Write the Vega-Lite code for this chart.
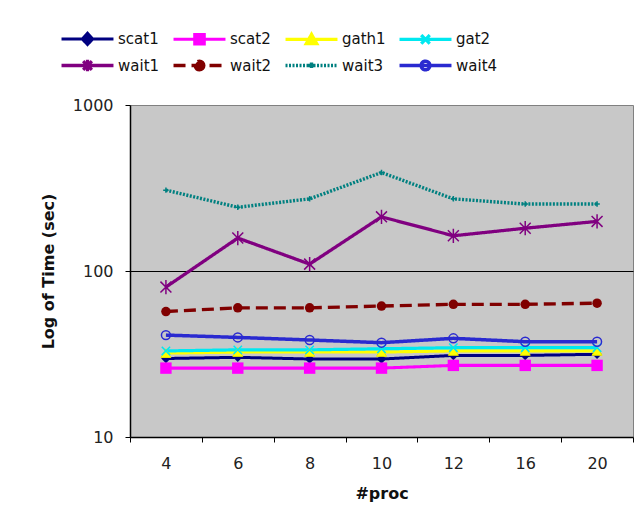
{
  "$schema": "https://vega.github.io/schema/vega-lite/v6.json",
  "autosize": "none",
  "width": 503,
  "height": 332,
  "padding": {"left": 130, "top": 105, "right": 10, "bottom": 85},
  "background": "white",
  "config": {
    "font": "DejaVu Sans",
    "view": {"fill": "#c8c8c8", "stroke": "#808080", "strokeWidth": 1},
    "axis": {"labelFont": "DejaVu Sans", "titleFont": "DejaVu Sans", "labelColor": "#222", "titleColor": "#111", "domainColor": "black", "tickColor": "black", "labelFontSize": 16, "titleFontSize": 16, "titleFontWeight": "bold"}
  },
  "data": {"values": [
    {"proc": "4", "series": "scat1", "time": 29.7},
    {"proc": "6", "series": "scat1", "time": 30.2},
    {"proc": "8", "series": "scat1", "time": 29.5},
    {"proc": "10", "series": "scat1", "time": 29.5},
    {"proc": "12", "series": "scat1", "time": 31},
    {"proc": "16", "series": "scat1", "time": 31},
    {"proc": "20", "series": "scat1", "time": 31.5},
    {"proc": "4", "series": "scat2", "time": 26},
    {"proc": "6", "series": "scat2", "time": 26},
    {"proc": "8", "series": "scat2", "time": 26},
    {"proc": "10", "series": "scat2", "time": 26},
    {"proc": "12", "series": "scat2", "time": 27},
    {"proc": "16", "series": "scat2", "time": 27},
    {"proc": "20", "series": "scat2", "time": 27},
    {"proc": "4", "series": "gath1", "time": 32},
    {"proc": "6", "series": "gath1", "time": 32.5},
    {"proc": "8", "series": "gath1", "time": 32.5},
    {"proc": "10", "series": "gath1", "time": 32.5},
    {"proc": "12", "series": "gath1", "time": 33},
    {"proc": "16", "series": "gath1", "time": 33},
    {"proc": "20", "series": "gath1", "time": 33},
    {"proc": "4", "series": "gat2", "time": 33},
    {"proc": "6", "series": "gat2", "time": 33.5},
    {"proc": "8", "series": "gat2", "time": 33.5},
    {"proc": "10", "series": "gat2", "time": 34},
    {"proc": "12", "series": "gat2", "time": 34.5},
    {"proc": "16", "series": "gat2", "time": 34.5},
    {"proc": "20", "series": "gat2", "time": 34.5},
    {"proc": "4", "series": "wait1", "time": 80},
    {"proc": "6", "series": "wait1", "time": 158},
    {"proc": "8", "series": "wait1", "time": 110},
    {"proc": "10", "series": "wait1", "time": 212},
    {"proc": "12", "series": "wait1", "time": 163},
    {"proc": "16", "series": "wait1", "time": 181},
    {"proc": "20", "series": "wait1", "time": 199},
    {"proc": "4", "series": "wait2", "time": 57},
    {"proc": "6", "series": "wait2", "time": 60},
    {"proc": "8", "series": "wait2", "time": 60},
    {"proc": "10", "series": "wait2", "time": 61.5},
    {"proc": "12", "series": "wait2", "time": 63},
    {"proc": "16", "series": "wait2", "time": 63},
    {"proc": "20", "series": "wait2", "time": 64},
    {"proc": "4", "series": "wait3", "time": 307},
    {"proc": "6", "series": "wait3", "time": 242},
    {"proc": "8", "series": "wait3", "time": 272},
    {"proc": "10", "series": "wait3", "time": 392},
    {"proc": "12", "series": "wait3", "time": 272},
    {"proc": "16", "series": "wait3", "time": 253},
    {"proc": "20", "series": "wait3", "time": 253},
    {"proc": "4", "series": "wait4", "time": 41.1},
    {"proc": "6", "series": "wait4", "time": 39.8},
    {"proc": "8", "series": "wait4", "time": 38.4},
    {"proc": "10", "series": "wait4", "time": 37},
    {"proc": "12", "series": "wait4", "time": 39.3},
    {"proc": "16", "series": "wait4", "time": 37.5},
    {"proc": "20", "series": "wait4", "time": 37.5}
  ]},
  "encoding": {
    "x": {
      "field": "proc", "type": "ordinal",
      "sort": ["4", "6", "8", "10", "12", "16", "20"],
      "scale": {"type": "band", "paddingInner": 0, "paddingOuter": 0},
      "bandPosition": 0.5,
      "axis": {"title": "#proc", "labelAngle": 0, "tickBand": "extent", "tickSize": 5, "labelPadding": 13, "titlePadding": 14, "domainWidth": 1.5}
    },
    "y": {
      "field": "time", "type": "quantitative",
      "scale": {"type": "log", "domain": [10, 1000], "nice": false},
      "axis": {"title": "Log of Time (sec)", "values": [10, 100, 1000], "format": "d", "tickSize": 5, "labelPadding": 12, "titlePadding": 16, "domainWidth": 1.5, "grid": true,
        "gridColor": {"condition": {"test": "datum.value == 100", "value": "black"}, "value": "transparent"}, "gridWidth": 1.2}
    }
  },
  "layer": [
    {
      "mark": {"type": "line"},
      "encoding": {
        "color": {
          "field": "series", "type": "nominal",
          "scale": {"domain": ["scat1", "scat2", "gath1", "gat2", "wait1", "wait2", "wait3", "wait4"],
                    "range": ["#000080", "#ff00ff", "#ffff00", "#00e8f0", "#800080", "#800000", "#008080", "#2a2ad0"]},
          "legend": {
            "title": null, "orient": "none", "legendX": -53, "legendY": -77,
            "columns": 4, "direction": "horizontal",
            "symbolSize": 300, "labelOffset": 20, "columnPadding": 6, "rowPadding": 2,
            "labelFont": "DejaVu Sans", "labelFontSize": 15, "labelColor": "#111",
            "symbolStrokeWidth": 2,
            "encode": {
              "symbols": {"update": {
                "shape": {"signal": "{'scat1':'M-3,0L3,0M0,-0.65L0.6,0L0,0.65L-0.6,0Z','scat2':'M-3,0L3,0M-0.55,-0.55L0.55,-0.55L0.55,0.55L-0.55,0.55Z','gath1':'M-3,0L3,0M0,-0.6L0.62,0.5L-0.62,0.5Z','gat2':'M-3,0L3,0M-0.5,-0.5L0.5,0.5M-0.5,0.5L0.5,-0.5','wait1':'M-3,0L3,0M-0.5,-0.5L0.5,0.5M-0.5,0.5L0.5,-0.5M0,-0.65L0,0.65','wait2':'M-3,0L3,0M0.5,0C0.5,0.276 0.276,0.5 0,0.5C-0.276,0.5 -0.5,0.276 -0.5,0C-0.5,-0.276 -0.276,-0.5 0,-0.5C0.276,-0.5 0.5,-0.276 0.5,0Z','wait3':'M-3,0L3,0M0,-0.35L0,0.35M-0.35,0L0.35,0','wait4':'M-3,0L3,0M0.5,0C0.5,0.276 0.276,0.5 0,0.5C-0.276,0.5 -0.5,0.276 -0.5,0C-0.5,-0.276 -0.276,-0.5 0,-0.5C0.276,-0.5 0.5,-0.276 0.5,0Z'}[datum.value]"},
                "fill": {"signal": "indexof(['scat1','scat2','gath1','wait2'], datum.value) >= 0 ? scale('color', datum.value) : 'transparent'"},
                "strokeDash": {"signal": "datum.value == 'wait2' ? [6,4] : datum.value == 'wait3' ? [1.5,1.5] : [1,0]"},
                "strokeWidth": {"signal": "datum.value == 'wait3' || datum.value == 'wait4' ? 1.5 : 2.5"},
                "opacity": {"value": 1}
              }}
            }
          }
        },
        "strokeDash": {
          "field": "series", "type": "nominal",
          "scale": {"domain": ["scat1", "scat2", "gath1", "gat2", "wait1", "wait2", "wait3", "wait4"],
                    "range": [[1, 0], [1, 0], [1, 0], [1, 0], [1, 0], [12, 6], [2, 1.5], [1, 0]]},
          "legend": null
        },
        "strokeWidth": {
          "field": "series", "type": "nominal",
          "scale": {"domain": ["scat1", "scat2", "gath1", "gat2", "wait1", "wait2", "wait3", "wait4"],
                    "range": [3, 3.5, 2.5, 4, 3, 2, 2, 1.5]},
          "legend": null
        }
      }
    },
    {"transform": [{"filter": "datum.series == 'scat1'"}],
     "mark": {"type": "point", "shape": "diamond", "filled": true, "color": "#000080", "size": 90, "opacity": 1}},
    {"transform": [{"filter": "datum.series == 'scat2'"}],
     "mark": {"type": "point", "shape": "square", "filled": true, "color": "#ff00ff", "size": 130, "opacity": 1}},
    {"transform": [{"filter": "datum.series == 'gath1'"}],
     "mark": {"type": "point", "shape": "triangle-up", "filled": true, "fill": "#ffff00", "stroke": "#e8e800", "strokeWidth": 1, "size": 100, "opacity": 1}},
    {"transform": [{"filter": "datum.series == 'gat2'"}],
     "mark": {"type": "point", "shape": "M-1,-1L1,1M-1,1L1,-1", "filled": false, "color": "#00e8f0", "strokeWidth": 1.5, "size": 70, "opacity": 1}},
    {"transform": [{"filter": "datum.series == 'wait1'"}],
     "mark": {"type": "point", "shape": "M-1,-1L1,1M-1,1L1,-1M0,-1.3L0,1.3", "filled": false, "color": "#800080", "strokeWidth": 1.5, "size": 120, "opacity": 1}},
    {"transform": [{"filter": "datum.series == 'wait2'"}],
     "mark": {"type": "point", "shape": "circle", "filled": true, "color": "#800000", "size": 90, "opacity": 1}},
    {"transform": [{"filter": "datum.series == 'wait3'"}],
     "mark": {"type": "point", "shape": "M0,-1L0,1M-1,0L1,0", "filled": false, "color": "#008080", "strokeWidth": 1.5, "size": 30, "opacity": 1}},
    {"transform": [{"filter": "datum.series == 'wait4'"}],
     "mark": {"type": "point", "shape": "circle", "filled": false, "color": "#2a2ad0", "strokeWidth": 1.5, "size": 80, "opacity": 1}}
  ]
}
